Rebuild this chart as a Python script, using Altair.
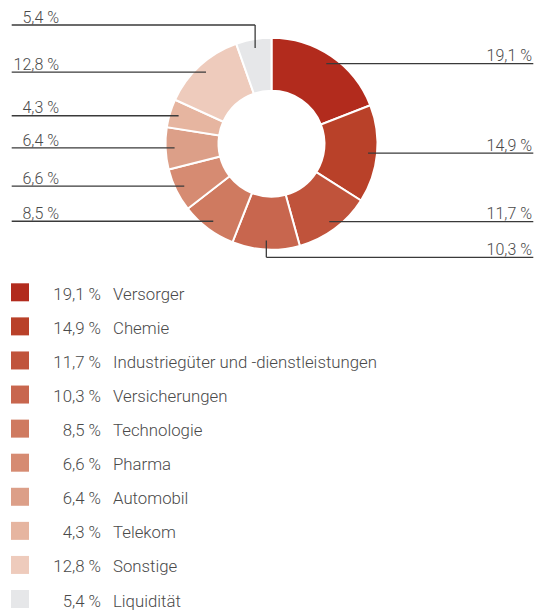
import math
import pandas as pd
import altair as alt

# ---- data ----
categories = ["Versorger", "Chemie", "Industriegüter und -dienstleistungen",
              "Versicherungen", "Technologie", "Pharma", "Automobil",
              "Telekom", "Sonstige", "Liquidität"]
values = [19.1, 14.9, 11.7, 10.3, 8.5, 6.6, 6.4, 4.3, 12.8, 5.4]
colors = ["#b22b1d", "#b94129", "#c0533b", "#c8664e", "#cf7a60",
          "#d68b72", "#dc9f88", "#e6b5a0", "#eecbbc", "#e6e7e9"]

# ---- layout ----
W, H = 528, 603
CX, CY = 263.5, 135.7
R_IN, R_OUT = 53, 106
R_ANCHOR = 97
ELBOW_TOP, ELBOW_BOTTOM = 12.7, 7.6
LEFT_EDGE, RIGHT_EDGE = 3.7, 525.3
LEFT_TEXT, RIGHT_TEXT = 51, 524
LEG_X, LEG_Y0, LEG_STEP = 12, 284.3, 34.08
LEG_PCT_X, LEG_NAME_X = 93, 105
FONT = "Roboto"
TEXT_COLOR = "#4a4a4a"
LINE_COLOR = "#3a3a3a"


def fmt(v):
    return f"{v:.1f}".replace(".", ",") + " %"


total = sum(values)
rows, segs, texts = [], [], []
cum = 0.0
for i, (c, v) in enumerate(zip(categories, values)):
    mid = 2 * math.pi * (cum + v / 2) / total
    cum += v
    ax = CX + R_ANCHOR * math.sin(mid)
    ay = CY - R_ANCHOR * math.cos(mid)
    s = math.sin(mid)
    top = math.cos(mid) > 0
    if abs(s) < 0.3:  # elbow: top slice goes left, bottom slice goes right
        right = not top
        edge = RIGHT_EDGE if right else LEFT_EDGE
        ly = CY - R_OUT - ELBOW_TOP if top else CY + R_OUT + ELBOW_BOTTOM
        segs.append(dict(x=ax, x2=ax, y=ay, y2=ly))
        segs.append(dict(x=ax, x2=edge, y=ly, y2=ly))
    else:
        right = s >= 0
        edge = RIGHT_EDGE if right else LEFT_EDGE
        ly = ay
        segs.append(dict(x=ax, x2=edge, y=ly, y2=ly))
    tx = RIGHT_TEXT if right else LEFT_TEXT
    texts.append(dict(x=tx, y=ly - 2.3, label=fmt(v)))
    rows.append(dict(idx=i, category=c, value=v, pct=fmt(v),
                     lx=LEG_X, ly=LEG_Y0 + i * LEG_STEP,
                     px=LEG_PCT_X, nx=LEG_NAME_X))

df = pd.DataFrame(rows)
seg_df = pd.DataFrame(segs)
txt_df = pd.DataFrame(texts)

xs = alt.Scale(domain=[0, W], nice=False, zero=False)
ys = alt.Scale(domain=[0, H], nice=False, zero=False, reverse=True)
color = alt.Color("category:N", scale=alt.Scale(domain=categories, range=colors), legend=None)

arcs = alt.Chart(df).mark_arc(innerRadius=R_IN, outerRadius=R_OUT,
                              stroke="white", strokeWidth=2).encode(
    theta=alt.Theta("value:Q", stack=True),
    color=color,
    order=alt.Order("idx:Q"),
    x=alt.value(CX), y=alt.value(CY),
)

lines = alt.Chart(seg_df).mark_rule(color=LINE_COLOR, strokeWidth=1.3).encode(
    x=alt.X("x:Q", scale=xs, axis=None), x2="x2:Q",
    y=alt.Y("y:Q", scale=ys, axis=None), y2="y2:Q",
)

ltext = alt.Chart(txt_df).mark_text(align="right", baseline="alphabetic",
                                    font=FONT, fontSize=16, fontWeight=300,
                                    color=TEXT_COLOR).encode(
    x=alt.X("x:Q", scale=xs, axis=None),
    y=alt.Y("y:Q", scale=ys, axis=None),
    text="label:N",
)

squares = alt.Chart(df).mark_square(size=324, opacity=1).encode(
    x=alt.X("lx:Q", scale=xs, axis=None),
    y=alt.Y("ly:Q", scale=ys, axis=None),
    color=color,
)

pct = alt.Chart(df).mark_text(align="right", baseline="middle", dy=2.5, font=FONT,
                              fontSize=16.8, fontWeight=300, color=TEXT_COLOR).encode(
    x=alt.X("px:Q", scale=xs, axis=None),
    y=alt.Y("ly:Q", scale=ys, axis=None),
    text="pct:N",
)

names = alt.Chart(df).mark_text(align="left", baseline="middle", dy=2.5, font=FONT,
                                fontSize=16.8, fontWeight=300, color=TEXT_COLOR).encode(
    x=alt.X("nx:Q", scale=xs, axis=None),
    y=alt.Y("ly:Q", scale=ys, axis=None),
    text="category:N",
)

chart = alt.layer(arcs, lines, ltext, squares, pct, names).properties(
    width=W, height=H, padding=0,
    autosize=alt.AutoSizeParams(type="none"),
).configure_view(stroke=None)

chart.save("out.html", embed_options={"renderer": "svg", "actions": False})
